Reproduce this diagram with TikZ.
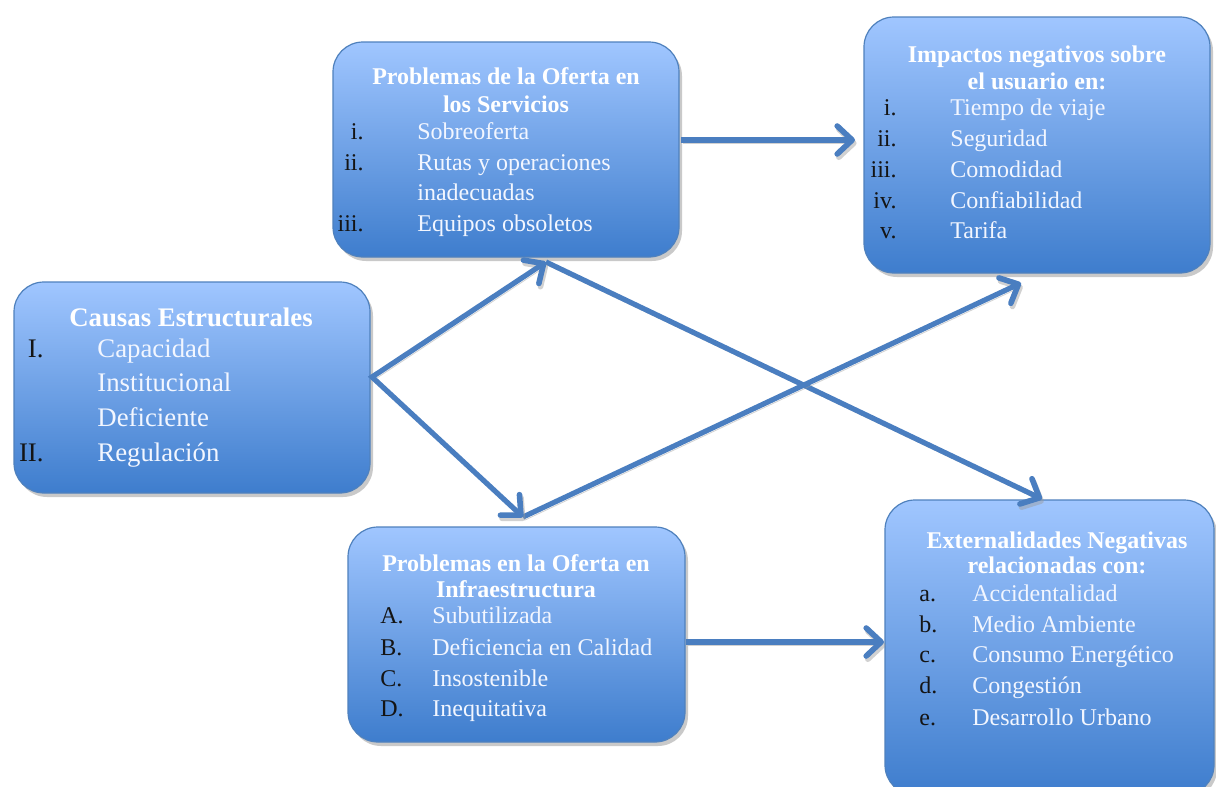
\documentclass[tikz,border=0pt]{standalone}
\usepackage{fontspec}
\setmainfont{Liberation Serif}
\usetikzlibrary{arrows.meta,shadows,fit}
\definecolor{boxtop}{RGB}{160,198,255}
\definecolor{boxbot}{RGB}{62,125,205}
\definecolor{boxline}{RGB}{79,129,189}
\definecolor{arrowc}{RGB}{74,126,192}
\definecolor{itemc}{RGB}{242,246,255}
\definecolor{numc}{RGB}{20,20,20}
\tikzset{
  box/.style={draw=boxline, line width=0.6pt, rounded corners=15pt,
    top color=boxtop, bottom color=boxbot, inner sep=0pt,
    drop shadow={shadow xshift=1.5pt, shadow yshift=-2pt, opacity=0.35, fill=black!60}},
  ttl/.style={text=white, font=\bfseries\fontsize{12}{14}\selectfont, anchor=base, inner sep=0pt},
  num/.style={text=numc, font=\fontsize{12}{14}\selectfont, anchor=base east, inner sep=0pt},
  let/.style={text=numc, font=\fontsize{12}{14}\selectfont, anchor=base west, inner sep=0pt},
  itm/.style={text=itemc, font=\fontsize{12}{14}\selectfont, anchor=base west, inner sep=0pt},
  bigttl/.style={ttl, font=\bfseries\fontsize{13.4}{16}\selectfont},
  bignum/.style={num, font=\fontsize{13.4}{16}\selectfont},
  bigitm/.style={itm, font=\fontsize{13.4}{16}\selectfont},
  tipstyle/.style={},
  conn/.style={draw=arrowc, line width=2.6pt, line join=round,
    -{Straight Barb[length=7.5pt,width=14pt,line width=2.8pt,round]},
    preaction={draw=black!40, opacity=.45, transform canvas={shift={(0.8pt,-1.6pt)}}}},
  conn2/.style={conn, {Straight Barb[length=7.5pt,width=14pt,line width=2.8pt,round]}-{Straight Barb[length=7.5pt,width=14pt,line width=2.8pt,round]}, line join=miter}
}
\begin{document}
\begin{tikzpicture}[x=0.5pt,y=-0.5pt]
\useasboundingbox (0,0) rectangle (1216,787);
\clip (0,0) rectangle (1216,787);
\fill[white] (0,0) rectangle (1216,787);
% boxes
\node[box, fit={(333,42) (679,257)}] (b1) {};
\node[box, fit={(864,17) (1210,273)}] (b2) {};
\node[box, fit={(14,282) (370,493)}] (b3) {};
\node[box, fit={(348,527) (685,742)}] (b4) {};
\node[box, fit={(885,500) (1214,795)}] (b5) {};
% B1
\node[ttl] (b1t1) at (506,84) {Problemas de la Oferta en};
\node[ttl] (b1t2) at (506,112) {los Servicios};
\node[num] (b1n1) at (364,139) {i.};
\node[itm] (b1i1) at (417,139) {Sobreoferta};
\node[num] (b1n2) at (364,170) {ii.};
\node[itm] (b1i2) at (417,170) {Rutas y operaciones};
\node[itm] (b1i2b) at (417,200) {inadecuadas};
\node[num] (b1n3) at (364,231) {iii.};
\node[itm] (b1i3) at (417,231) {Equipos obsoletos};
% B2
\node[ttl] (b2t1) at (1037,62) {Impactos negativos sobre};
\node[ttl] (b2t2) at (1037,89) {el usuario en:};
\node[num] (b2n1) at (897,115) {i.};
\node[itm] (b2i1) at (950,115) {Tiempo de viaje};
\node[num] (b2n2) at (897,146) {ii.};
\node[itm] (b2i2) at (950,146) {Seguridad};
\node[num] (b2n3) at (897,177) {iii.};
\node[itm] (b2i3) at (950,177) {Comodidad};
\node[num] (b2n4) at (897,208) {iv.};
\node[itm] (b2i4) at (950,208) {Confiabilidad};
\node[num] (b2n5) at (897,238) {v.};
\node[itm] (b2i5) at (950,238) {Tarifa};
% B3
\node[bigttl] (b3t1) at (191,326) {Causas Estructurales};
\node[bignum] (b3n1) at (44,357) {I.};
\node[bigitm] (b3i1) at (97,357) {Capacidad};
\node[bigitm] (b3i1b) at (97,391) {Institucional};
\node[bigitm] (b3i1c) at (97,426) {Deficiente};
\node[bignum] (b3n2) at (44,461) {II.};
\node[bigitm] (b3i2) at (97,461) {Regulación};
% B4
\node[ttl] (b4t1) at (516,571) {Problemas en la Oferta en};
\node[ttl] (b4t2) at (516,597) {Infraestructura};
\node[let] (b4n1) at (380,623) {A.};
\node[itm] (b4i1) at (432,623) {Subutilizada};
\node[let] (b4n2) at (380,655) {B.};
\node[itm] (b4i2) at (432,655) {Deficiencia en Calidad};
\node[let] (b4n3) at (380,686) {C.};
\node[itm] (b4i3) at (432,686) {Insostenible};
\node[let] (b4n4) at (380,716) {D.};
\node[itm] (b4i4) at (432,716) {Inequitativa};
% B5
\node[ttl] (b5t1) at (1057,548) {Externalidades Negativas};
\node[ttl] (b5t2) at (1057,573) {relacionadas con:};
\node[let] (b5n1) at (919,601) {a.};
\node[itm] (b5i1) at (972,601) {Accidentalidad};
\node[let] (b5n2) at (919,632) {b.};
\node[itm] (b5i2) at (972,632) {Medio Ambiente};
\node[let] (b5n3) at (919,662) {c.};
\node[itm] (b5i3) at (972,662) {Consumo Energético};
\node[let] (b5n4) at (919,693) {d.};
\node[itm] (b5i4) at (972,693) {Congestión};
\node[let] (b5n5) at (919,725) {e.};
\node[itm] (b5i5) at (972,725) {Desarrollo Urbano};
% connector points
\coordinate (a1s) at (681,140);
\coordinate (a1e) at (855,140);
\coordinate (a6s) at (686,642);
\coordinate (a6e) at (884,642);
\coordinate (fork) at (372,377);
\coordinate (b1in) at (546,262);
\coordinate (b4in) at (523,517);
\coordinate (b5in) at (1042,499);
\coordinate (b2in) at (1021,283);
% connectors
\draw[conn] (b1in) -- (b5in);
\draw[conn] (b4in) -- (b2in);
\draw[conn2] (b1in) -- (fork) -- (b4in);
\draw[conn] (a1s) -- (a1e);
\draw[conn] (a6s) -- (a6e);
\end{tikzpicture}
\end{document}
